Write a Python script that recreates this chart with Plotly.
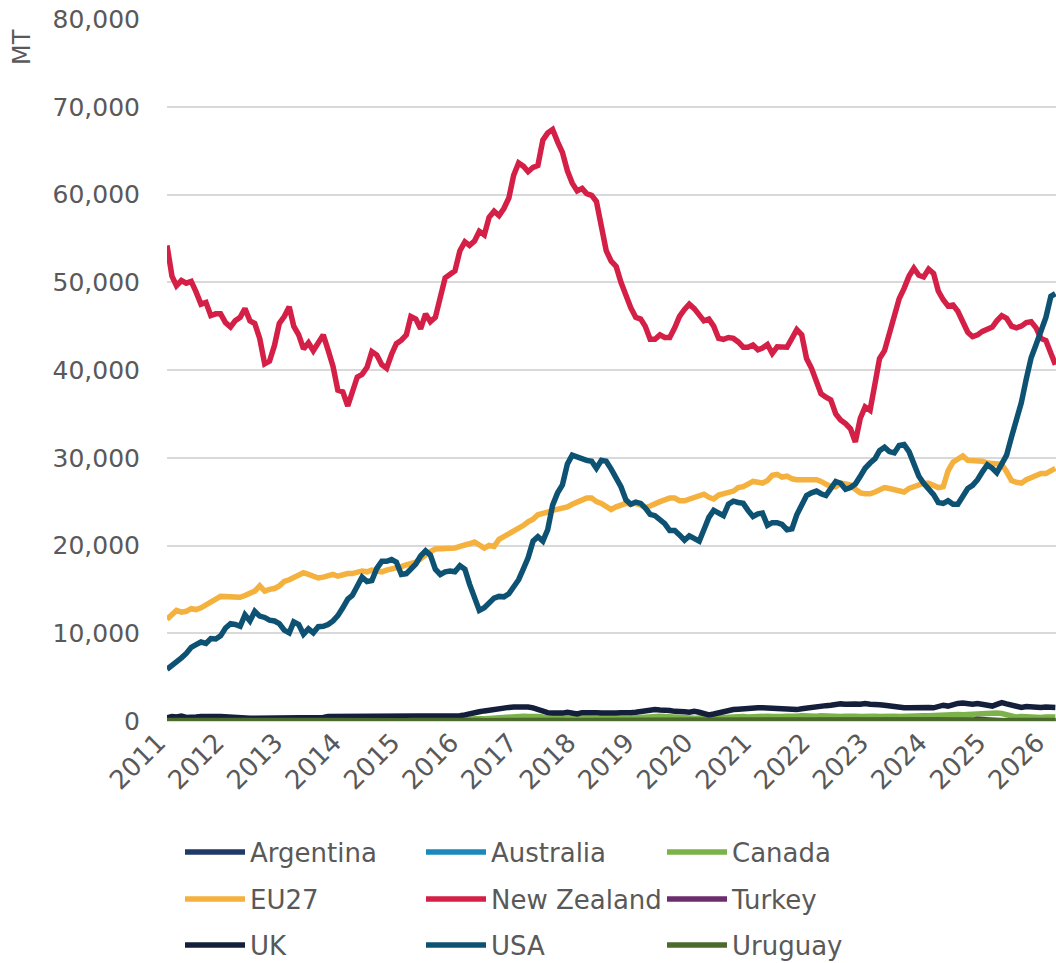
import pandas as pd
import plotly.graph_objects as go

# Monthly series, Jan 2011 .. Mar 2026, values in thousand MT
months = pd.date_range("2011-01-01", periods=183, freq="MS")

new_zealand = [
    54.2, 50.7, 49.6, 50.2, 49.9, 50.1, 48.9, 47.5, 47.7, 46.2, 46.4, 46.4,
    45.4, 44.9, 45.6, 46.0, 47.0, 45.6, 45.3, 43.6, 40.7, 41.0, 42.8, 45.3,
    46.1, 47.2, 45.0, 44.0, 42.4, 43.1, 42.2, 43.1, 44.0, 42.3, 40.4, 37.7,
    37.5, 35.9, 37.5, 39.2, 39.5, 40.3, 42.1, 41.7, 40.6, 40.2, 41.8, 43.0,
    43.4, 44.0, 46.1, 45.8, 44.7, 46.4, 45.5, 46.0, 48.3, 50.5, 50.9, 51.3,
    53.6, 54.6, 54.2, 54.7, 55.8, 55.4, 57.4, 58.1, 57.6, 58.4, 59.6, 62.2,
    63.6, 63.2, 62.6, 63.1, 63.3, 66.2, 67.0, 67.4, 66.0, 64.8, 62.7, 61.3,
    60.4, 60.7, 60.1, 59.9, 59.2, 56.2, 53.6, 52.4, 51.8, 50.0, 48.5, 47.1,
    46.0, 45.8, 45.0, 43.5, 43.5, 44.0, 43.7, 43.7, 44.8, 46.1, 46.9, 47.5,
    47.0, 46.2, 45.6, 45.8, 45.0, 43.6, 43.5, 43.7, 43.6, 43.2, 42.6, 42.6,
    42.85, 42.3, 42.5, 42.9, 41.9, 42.65, 42.65, 42.6, 43.6, 44.6, 44.0, 41.3,
    40.2, 38.7, 37.3, 36.9, 36.6, 35.0, 34.3, 33.9, 33.3, 31.8, 34.5, 35.8,
    35.4, 38.5, 41.3, 42.2, 44.0, 46.4, 48.1, 49.3, 50.7, 51.6, 50.8, 50.6,
    51.5, 51.0, 49.0, 48.0, 47.3, 47.4, 46.7, 45.5, 44.3, 43.8, 44.0, 44.4,
    44.65, 44.9, 45.6, 46.2, 45.9, 45.0, 44.8, 45.0, 45.4, 45.5, 44.8, 43.6,
    43.35, 41.9, 40.6,
]

eu27 = [
    11.6, 12.1, 12.6, 12.4, 12.5, 12.8, 12.7, 12.9, 13.3, 13.5, 13.9, 14.2,
    14.2, 14.1, 14.1, 14.1, 14.3, 14.5, 14.8, 15.4, 14.8, 15.0, 15.1, 15.4,
    15.9, 16.1, 16.4, 16.7, 16.9, 16.7, 16.5, 16.3, 16.4, 16.6, 16.7, 16.5,
    16.7, 16.8, 16.8, 17.0, 17.1, 17.0, 17.2, 17.1, 17.0, 17.2, 17.3, 17.5,
    17.6, 17.8, 18.0, 18.1, 18.5, 19.0, 19.3, 19.6, 19.65, 19.6, 19.6, 19.7,
    19.9, 20.0, 20.2, 20.4, 20.0, 19.7, 20.0, 19.9, 20.7, 21.0, 21.4, 21.7,
    21.95, 22.3, 22.7, 23.0, 23.5, 23.6, 23.8, 24.0, 24.1, 24.2, 24.4, 24.7,
    24.9, 25.2, 25.4, 25.4, 25.0, 24.8, 24.5, 24.1, 24.4, 24.6, 24.8, 24.7,
    24.8, 24.6, 24.3, 24.5, 24.8, 25.0, 25.2, 25.4, 25.4, 25.1, 25.1, 25.3,
    25.5, 25.6, 25.85, 25.5, 25.3, 25.75, 25.9, 26.0, 26.2, 26.6, 26.7, 27.0,
    27.3, 27.2, 27.1, 27.4, 28.0, 28.1, 27.8, 27.9, 27.6, 27.5, 27.5, 27.4,
    27.5, 27.5, 27.3, 27.0, 26.7, 26.7, 27.1, 27.0, 26.9, 26.4, 26.0, 25.9,
    25.9, 26.1, 26.3, 26.6, 26.5, 26.4, 26.3, 26.1, 26.5, 26.7, 26.8, 27.1,
    27.1, 26.9, 26.6, 26.7, 28.5, 29.5, 29.9, 30.2, 29.7, 29.7, 29.7, 29.6,
    29.4, 29.4, 29.3, 29.25, 28.4, 27.4, 27.2, 27.1, 27.5, 27.7, 27.9, 28.2,
    28.2, 28.5, 28.8,
]

usa = [
    5.9, 6.3, 6.7, 7.2, 7.7, 8.4, 8.7, 9.0, 8.85, 9.4, 9.35, 9.7,
    10.6, 11.1, 11.0, 10.8, 12.1, 11.4, 12.5, 11.95, 11.8, 11.5, 11.4, 11.1,
    10.35, 10.05, 11.3, 11.0, 9.9, 10.5, 10.05, 10.75, 10.8, 11.0, 11.4, 12.0,
    12.9, 13.9, 14.3, 15.4, 16.4, 15.9, 16.0, 17.4, 18.2, 18.2, 18.4, 18.1,
    16.7, 16.8, 17.3, 17.9, 18.8, 19.4, 18.9, 17.3, 16.7, 17.0, 17.1, 17.0,
    17.7, 17.3, 15.6, 14.0, 12.6, 12.9, 13.5, 14.0, 14.2, 14.15, 14.5, 15.3,
    16.1, 17.4, 18.6, 20.5, 21.0, 20.5, 21.8, 24.6, 26.0, 26.9, 29.3, 30.3,
    30.05, 29.9, 29.7, 29.6, 28.8, 29.7, 29.6, 28.7, 27.7, 26.7, 25.2, 24.7,
    24.95, 24.8, 24.3, 23.55, 23.4, 23.0, 22.5, 21.7, 21.7, 21.2, 20.6, 21.1,
    20.8, 20.5, 21.8, 23.2, 24.0, 23.6, 23.4, 24.7, 25.05, 24.9, 24.8, 24.0,
    23.3, 23.6, 23.7, 22.3, 22.6, 22.6, 22.4, 21.8, 21.9, 23.5, 24.8, 25.7,
    26.0, 26.2, 25.9, 25.7, 26.5, 27.3, 27.1, 26.4, 26.6, 27.0, 27.9, 28.8,
    29.4, 29.9, 30.8, 31.2, 30.7, 30.55, 31.4, 31.5, 30.7, 29.3, 27.9, 27.1,
    26.5, 25.8, 24.9, 24.8, 25.1, 24.7, 24.7, 25.7, 26.5, 26.85, 27.5, 28.4,
    29.2, 28.8, 28.3, 29.3, 30.3, 32.4, 34.1, 36.3, 39.0, 41.4, 42.9, 44.5,
    46.0, 48.4, 48.7,
]

uk = [
    0.35, 0.5, 0.45, 0.55, 0.4, 0.5, 0.45, 0.5, 0.55, 0.45, 0.5, 0.5,
    0.45, 0.4, 0.3, 0.25, 0.35, 0.3, 0.3, 0.3, 0.35, 0.3, 0.3, 0.35,
    0.3, 0.3, 0.35, 0.3, 0.3, 0.4, 0.35, 0.35, 0.4, 0.5, 0.5, 0.45,
    0.5, 0.5, 0.55, 0.5, 0.5, 0.55, 0.5, 0.5, 0.5, 0.45, 0.5, 0.45,
    0.45, 0.5, 0.45, 0.5, 0.45, 0.45, 0.5, 0.45, 0.5, 0.45, 0.5, 0.55,
    0.6, 0.7, 0.85, 0.95, 1.05, 1.15, 1.25, 1.35, 1.45, 1.5, 1.55, 1.6,
    1.65, 1.65, 1.6, 1.5, 1.3, 1.15, 0.95, 0.9, 0.85, 0.9, 1.0, 0.95,
    0.8, 0.95, 1.0, 0.9, 0.95, 0.9, 0.85, 0.95, 0.9, 0.95, 0.9, 0.95,
    1.0, 1.1, 1.2, 1.25, 1.3, 1.25, 1.3, 1.2, 1.1, 1.15, 1.05, 1.0,
    1.1, 1.0, 0.85, 0.7, 0.8, 0.95, 1.1, 1.2, 1.3, 1.35, 1.4, 1.5,
    1.6, 1.5, 1.5, 1.45, 1.5, 1.4, 1.45, 1.3, 1.2, 1.3, 1.4, 1.5,
    1.55, 1.65, 1.7, 1.75, 1.8, 1.9, 1.95, 1.9, 2.0, 1.95, 1.9, 2.0,
    1.9, 1.95, 1.85, 1.8, 1.7, 1.6, 1.55, 1.5, 1.5, 1.55, 1.5, 1.6,
    1.55, 1.5, 1.6, 1.8, 1.7, 1.9, 2.0, 2.05, 1.95, 1.9, 2.0, 1.85,
    1.75, 1.7, 1.9, 2.1, 1.95, 1.8, 1.6, 1.55, 1.65, 1.6, 1.5, 1.55,
    1.6, 1.5, 1.55,
]

canada = [
    0.05, 0.06, 0.05, 0.05, 0.06, 0.05, 0.05, 0.06, 0.05, 0.05, 0.06, 0.05,
    0.05, 0.06, 0.05, 0.05, 0.06, 0.05, 0.05, 0.06, 0.05, 0.05, 0.06, 0.05,
    0.05, 0.06, 0.05, 0.05, 0.06, 0.05, 0.05, 0.06, 0.05, 0.05, 0.06, 0.05,
    0.05, 0.06, 0.05, 0.05, 0.06, 0.05, 0.05, 0.06, 0.05, 0.05, 0.06, 0.05,
    0.05, 0.06, 0.05, 0.06, 0.08, 0.1, 0.1, 0.12, 0.1, 0.12, 0.15, 0.15,
    0.18, 0.2, 0.2, 0.25, 0.2, 0.25, 0.3, 0.35, 0.3, 0.35, 0.45, 0.55,
    0.6, 0.55, 0.5, 0.55, 0.5, 0.45, 0.4, 0.35, 0.3, 0.35, 0.3, 0.3,
    0.35, 0.3, 0.25, 0.3, 0.3, 0.35, 0.3, 0.3, 0.35, 0.3, 0.3, 0.35,
    0.4, 0.45, 0.5, 0.45, 0.5, 0.55, 0.5, 0.45, 0.4, 0.35, 0.3, 0.35,
    0.3, 0.35, 0.4, 0.35, 0.4, 0.45, 0.4, 0.45, 0.5, 0.45, 0.5, 0.45,
    0.5, 0.45, 0.5, 0.55, 0.5, 0.45, 0.5, 0.55, 0.5, 0.55, 0.6, 0.55,
    0.5, 0.55, 0.6, 0.55, 0.5, 0.55, 0.5, 0.55, 0.6, 0.55, 0.5, 0.55,
    0.5, 0.55, 0.5, 0.55, 0.6, 0.55, 0.5, 0.55, 0.6, 0.6, 0.55, 0.6,
    0.6, 0.65, 0.6, 0.65, 0.7, 0.7, 0.75, 0.7, 0.75, 0.8, 0.85, 0.9,
    0.9, 0.95, 0.9, 0.85, 0.7, 0.5, 0.45, 0.5, 0.45, 0.5, 0.45, 0.4,
    0.45, 0.4, 0.45,
]

uruguay = [
    0.05, 0.04, 0.05, 0.06, 0.05, 0.04, 0.05, 0.05, 0.06, 0.05, 0.04, 0.05,
    0.05, 0.04, 0.05, 0.06, 0.05, 0.04, 0.05, 0.05, 0.06, 0.05, 0.04, 0.05,
    0.05, 0.04, 0.05, 0.06, 0.05, 0.04, 0.05, 0.05, 0.06, 0.05, 0.04, 0.05,
    0.05, 0.04, 0.05, 0.06, 0.05, 0.04, 0.05, 0.05, 0.06, 0.05, 0.04, 0.05,
    0.05, 0.04, 0.05, 0.06, 0.05, 0.04, 0.05, 0.05, 0.06, 0.05, 0.04, 0.05,
    0.05, 0.04, 0.05, 0.06, 0.05, 0.04, 0.05, 0.05, 0.06, 0.05, 0.04, 0.05,
    0.05, 0.04, 0.05, 0.06, 0.05, 0.04, 0.05, 0.05, 0.06, 0.05, 0.04, 0.05,
    0.05, 0.04, 0.05, 0.06, 0.05, 0.04, 0.05, 0.05, 0.06, 0.05, 0.04, 0.05,
    0.05, 0.04, 0.05, 0.06, 0.05, 0.04, 0.05, 0.05, 0.06, 0.05, 0.04, 0.05,
    0.05, 0.04, 0.05, 0.06, 0.05, 0.04, 0.05, 0.05, 0.06, 0.05, 0.04, 0.05,
    0.05, 0.04, 0.05, 0.06, 0.05, 0.04, 0.05, 0.05, 0.06, 0.05, 0.04, 0.05,
    0.05, 0.04, 0.05, 0.06, 0.05, 0.04, 0.05, 0.05, 0.06, 0.05, 0.04, 0.05,
    0.05, 0.04, 0.05, 0.06, 0.05, 0.04, 0.05, 0.05, 0.06, 0.05, 0.04, 0.05,
    0.05, 0.04, 0.05, 0.06, 0.05, 0.04, 0.05, 0.05, 0.06, 0.05, 0.04, 0.05,
    0.05, 0.04, 0.05, 0.06, 0.05, 0.04, 0.05, 0.05, 0.06, 0.05, 0.04, 0.05,
    0.05, 0.04, 0.05,
]

argentina = [0.02] * 183
australia = [0.01] * 183
turkey = [0.0] * 165 + [0.1, 0.2, 0.15, 0.05] + [0.0] * 14

series = [
    ("Argentina", argentina, "#1F3A68", "legend"),
    ("Australia", australia, "#1B88BD", "legend"),
    ("Canada", canada, "#7BB24A", "legend"),
    ("EU27", eu27, "#F5B13D", "legend2"),
    ("New Zealand", new_zealand, "#D41F47", "legend2"),
    ("Turkey", turkey, "#6C2D6E", "legend2"),
    ("UK", uk, "#131F3B", "legend3"),
    ("USA", usa, "#0E5273", "legend3"),
    ("Uruguay", uruguay, "#4B6B2D", "legend3"),
]

FONT = "DejaVu Sans"
GREY = "#595959"

fig = go.Figure()
for name, vals, color, leg in series:
    fig.add_trace(go.Scatter(
        x=months, y=[v * 1000 for v in vals], name=name, mode="lines",
        line=dict(color=color, width=5.5), legend=leg,
    ))

leg_common = dict(orientation="h", xanchor="left", yanchor="middle",
                  xref="container", yref="container", x=180 / 1056,
                  font=dict(family=FONT, size=26, color=GREY),
                  entrywidth=166, entrywidthmode="pixels", itemwidth=60,
                  bgcolor="rgba(0,0,0,0)", traceorder="normal")

fig.update_layout(
    width=1056, height=963,
    margin=dict(l=167, r=0, t=19, b=242, autoexpand=False),
    paper_bgcolor="white", plot_bgcolor="white",
    font=dict(family=FONT, size=24, color=GREY),
    showlegend=True,
    legend=dict(y=1 - 852 / 963, **leg_common),
    legend2=dict(y=1 - 899 / 963, **leg_common),
    legend3=dict(y=1 - 945 / 963, **leg_common),
    xaxis=dict(
        type="date", range=["2011-01-01", "2026-03-05"],
        tick0="2011-01-01", dtick="M12", tickformat="%Y", tickangle=-45,
        showgrid=False, showline=False, zeroline=False, ticks="",
        ticklabeloverflow="allow", ticklabelshift=-9,
        tickfont=dict(family=FONT, size=26, color=GREY), automargin=False,
    ),
    yaxis=dict(
        range=[0, 80000], dtick=10000, tickformat=",",
        showgrid=True, gridcolor="#D9D9D9", gridwidth=1.5,
        zeroline=True, zerolinecolor="#D9D9D9", zerolinewidth=1.5,
        showline=False, ticks="", ticklabelstandoff=26, automargin=False,
        tickfont=dict(family=FONT, size=25, color=GREY),
    ),
    annotations=[dict(
        text="MT", textangle=-90, xref="paper", yref="paper",
        x=(22 - 167) / 889, y=(721 - 47) / 702, xanchor="center", yanchor="middle",
        showarrow=False, font=dict(family=FONT, size=24, color=GREY),
    )],
)

fig.write_html(
    "out.html",
    config={"displayModeBar": False},
    post_script="document.body.style.margin='0px';document.body.style.overflow='hidden';",
)
